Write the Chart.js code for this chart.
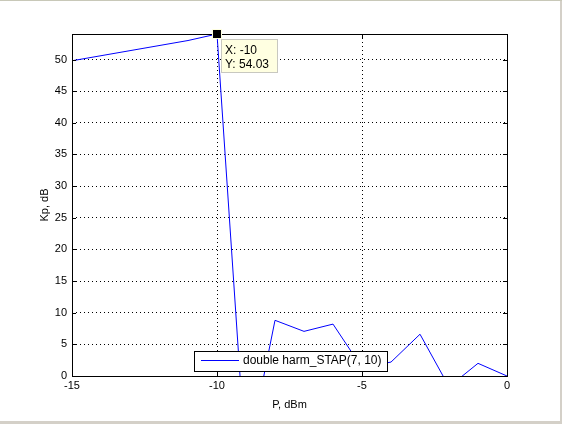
<!DOCTYPE html>
<html>
<head>
<meta charset="utf-8">
<script src="https://cdn.jsdelivr.net/npm/chart.js@4/dist/chart.umd.min.js"></script>
<style>
  body { margin: 0; background: #ffffff; }
  canvas { display: block; }
</style>
</head>
<body>
<canvas id="kpChart" width="562" height="424"></canvas>
<script>
// input power, dBm
const power = [-15, -14, -13, -12, -11, -10, -9, -8, -7, -6, -5, -4, -3, -2, -1, 0];
// Kp, dB
const kp = [49.8, 50.6, 51.4, 52.2, 53.0, 54.03, -14.0, 8.8, 7.05, 8.2, 1.3, 2.2, 6.6, -1.7, 2.0, 0];
const xTicks = [-15, -10, -5, 0];
const yTicks = [0, 5, 10, 15, 20, 25, 30, 35, 40, 45, 50];
const seriesName = 'double harm_STAP(7, 10)';
const tipIndex = 5; // data cursor point

const font11 = { family: 'Liberation Sans', size: 11 };

// MATLAB-like box, inner ticks, legend and data tip
const matlabDecor = {
  id: 'matlabDecor',
  afterDraw(chart) {
    const ctx = chart.ctx;
    const a = chart.chartArea;
    const sx = chart.scales.x, sy = chart.scales.y;
    ctx.save();
    ctx.strokeStyle = '#000';
    ctx.lineWidth = 1;
    ctx.setLineDash([]);
    ctx.strokeRect(Math.round(a.left) + 0.5, Math.round(a.top) + 0.5,
      Math.round(a.right - a.left), Math.round(a.bottom - a.top));

    // inward tick marks
    ctx.beginPath();
    xTicks.forEach(v => {
      const px = Math.round(sx.getPixelForValue(v)) + 0.5;
      ctx.moveTo(px, a.bottom); ctx.lineTo(px, a.bottom - 4);
      ctx.moveTo(px, a.top); ctx.lineTo(px, a.top + 4);
    });
    yTicks.forEach(v => {
      const py = Math.round(sy.getPixelForValue(v)) + 0.5;
      ctx.moveTo(a.left, py); ctx.lineTo(a.left + 4, py);
      ctx.moveTo(a.right, py); ctx.lineTo(a.right - 4, py);
    });
    ctx.stroke();

    // legend box
    const lx = 194.5, ly = 351.5, lw = 193, lh = 20;
    ctx.fillStyle = '#fff';
    ctx.fillRect(lx, ly, lw, lh);
    ctx.strokeRect(lx, ly, lw, lh);
    ctx.strokeStyle = '#0000ff';
    ctx.beginPath();
    ctx.moveTo(201, 360.5); ctx.lineTo(239, 360.5);
    ctx.stroke();
    ctx.fillStyle = '#000';
    ctx.font = '12px "Liberation Sans"';
    ctx.textBaseline = 'middle';
    ctx.textAlign = 'left';
    ctx.fillText(seriesName, 243, 361);

    // data tip
    const tx = Math.round(sx.getPixelForValue(power[tipIndex]));
    const ty = Math.round(sy.getPixelForValue(kp[tipIndex]));
    ctx.fillStyle = '#ffffe1';
    ctx.fillRect(tx - 5, ty - 5, 10, 10);
    ctx.fillStyle = '#000';
    ctx.fillRect(tx - 4, ty - 4, 8, 8);
    ctx.fillStyle = '#ffffe1';
    ctx.fillRect(tx + 4, ty + 5, 57, 34);
    ctx.strokeStyle = '#c8c8c0';
    ctx.strokeRect(tx + 4.5, ty + 5.5, 56, 33);
    ctx.fillStyle = '#000';
    ctx.font = '12px "Liberation Sans"';
    ctx.fillText('X: ' + power[tipIndex], tx + 8, ty + 17);
    ctx.fillText('Y: ' + kp[tipIndex].toFixed(2), tx + 8, ty + 31);

    // window frame edges
    ctx.fillStyle = '#d4d0c8';
    ctx.fillRect(560, 0, 2, 424);
    ctx.fillRect(0, 421, 562, 3);
    ctx.fillStyle = '#c8c8b8';
    ctx.fillRect(0, 0, 562, 1);
    ctx.restore();
  }
};

new Chart(document.getElementById('kpChart'), {
  type: 'line',
  data: {
    datasets: [{
      label: seriesName,
      data: power.map((p, i) => ({ x: p, y: kp[i] })),
      borderColor: '#0000ff',
      borderWidth: 1,
      pointRadius: 0,
      tension: 0,
      fill: false,
      clip: 0
    }]
  },
  options: {
    responsive: false,
    animation: false,
    devicePixelRatio: 1,
    layout: { padding: { top: 34, right: 55, left: 0, bottom: 0 } },
    plugins: {
      legend: { display: false },
      tooltip: { enabled: false }
    },
    scales: {
      x: {
        type: 'linear',
        min: -15,
        max: 0,
        afterFit: s => { s.height = 48; },
        afterBuildTicks: s => { s.ticks = xTicks.map(v => ({ value: v })); },
        ticks: { font: font11, color: '#000', padding: 3, maxRotation: 0 },
        grid: { color: '#000', drawTicks: false, lineWidth: 1 },
        border: { display: false, dash: [1, 3] },
        title: { display: true, text: 'P, dBm', font: font11, color: '#000', padding: { bottom: 12 } }
      },
      y: {
        type: 'linear',
        min: 0,
        max: 54.03,
        afterFit: s => { s.width = 72; },
        afterBuildTicks: s => { s.ticks = yTicks.map(v => ({ value: v })); },
        ticks: { font: font11, color: '#000', padding: 5 },
        grid: { color: '#000', drawTicks: false, lineWidth: 1 },
        border: { display: false, dash: [1, 3] },
        title: { display: true, text: 'Kp, dB', font: font11, color: '#000', padding: { top: 38 } }
      }
    }
  },
  plugins: [matlabDecor]
});
</script>
</body>
</html>
